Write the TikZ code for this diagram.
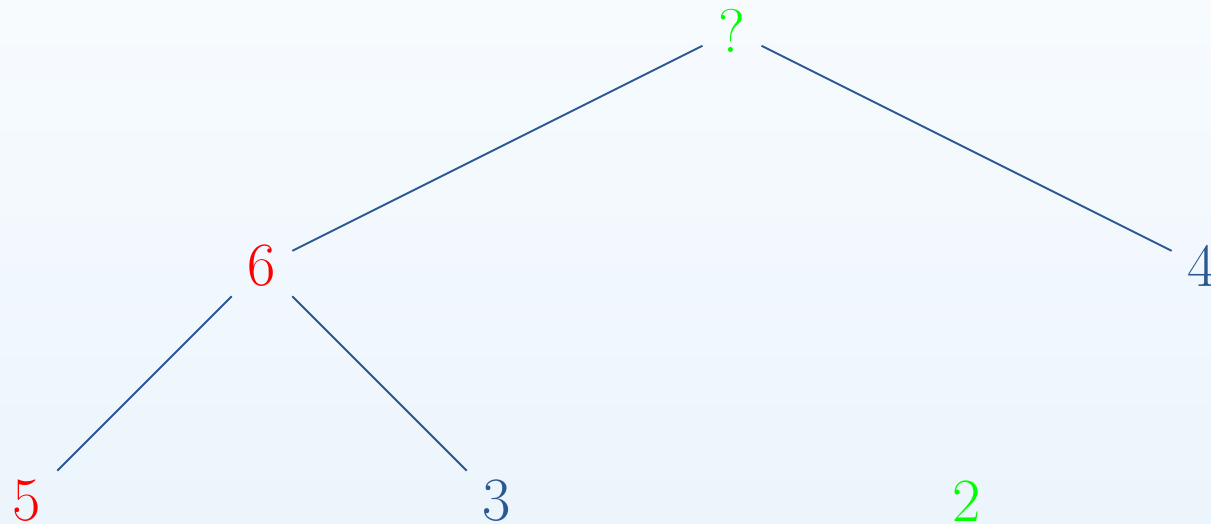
\documentclass[tikz,border=0pt]{standalone}
\usepackage{tikz}
\definecolor{edgeblue}{RGB}{42,88,146}
\definecolor{bgtop}{RGB}{247,251,254}
\definecolor{bgbot}{RGB}{236,245,252}
\begin{document}
\begin{tikzpicture}[x=0.01cm,y=-0.01cm,
  treenode/.style={inner sep=0.155cm, font=\fontsize{17.5pt}{20pt}\selectfont},
  bluenode/.style={treenode, text=edgeblue},
  rednode/.style={treenode, text=red},
  greennode/.style={treenode, text=green},
  branch/.style={draw=edgeblue, line width=0.55pt}]
  % background and page extent
  \shade[top color=bgtop, bottom color=bgbot] (0,0) rectangle (1211,523);
  \useasboundingbox (0,0) rectangle (1211,523);
  % tree nodes
  \node[greennode] (root) at (732,31) {?};
  \node[rednode]   (six)  at (262,266) {6};
  \node[bluenode]  (four) at (1202,266) {4};
  \node[rednode]   (five) at (27,501) {5};
  \node[bluenode]  (three) at (497,501) {3};
  \node[greennode] (two)  at (967,501) {2};
  % branches
  \draw[branch] (root) -- (six);
  \draw[branch] (root) -- (four);
  \draw[branch] (six) -- (five);
  \draw[branch] (six) -- (three);
\end{tikzpicture}
\end{document}
